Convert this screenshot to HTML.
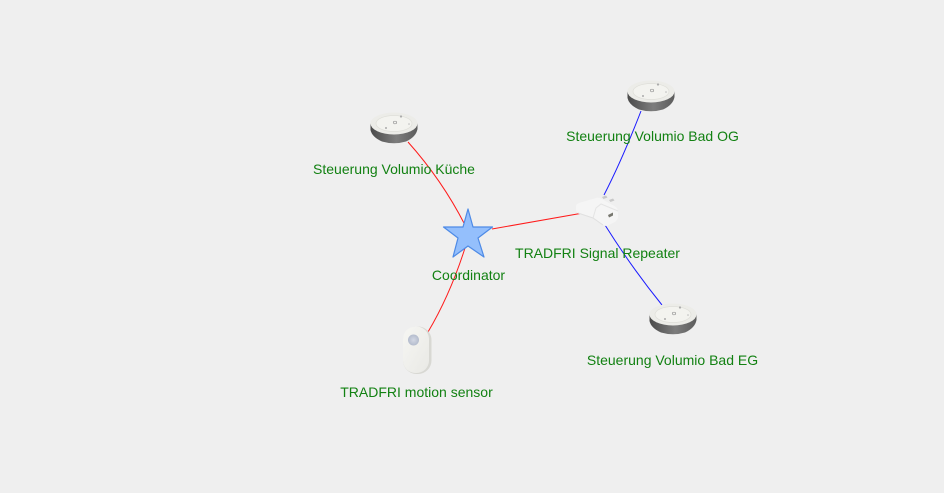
<!DOCTYPE html>
<html>
<head>
<meta charset="utf-8">
<style>
html,body{margin:0;padding:0;width:944px;height:493px;overflow:hidden;background:#efefef}
svg{display:block}
text{font-family:"Liberation Sans",sans-serif;font-size:14px;fill:#128112;text-anchor:middle}
</style>
</head>
<body>
<svg width="944" height="493" viewBox="0 0 944 493" xmlns="http://www.w3.org/2000/svg">
<defs>
<linearGradient id="band" x1="0" x2="1" y1="0" y2="0">
<stop offset="0" stop-color="#4a4a4a"/><stop offset=".55" stop-color="#7d7d7d"/><stop offset="1" stop-color="#5c5c5c"/>
</linearGradient>
<linearGradient id="white" x1="0" x2="1" y1="0" y2="1">
<stop offset="0" stop-color="#f6f6f3"/><stop offset="1" stop-color="#e9e9e5"/>
</linearGradient>
<radialGradient id="lens">
<stop offset="0" stop-color="#d3d8e4"/><stop offset="1" stop-color="#b4bccd"/>
</radialGradient>
<g id="remote">
<path d="M-23.500 -5V2Q-22 9 -12 13.500Q0 17 12 13.500Q22 9 23.500 1V-5Z" fill="url(#band)"/>
<ellipse cx="0" cy="-4.500" rx="23.500" ry="11" fill="#ecece8"/>
<ellipse cx="0" cy="-4.500" rx="18" ry="8" fill="#f3f3ef" stroke="#dfdfd9" stroke-width=".7"/>
<ellipse cx="1" cy="-5.500" rx="1.700" ry="1.300" fill="none" stroke="#999" stroke-width=".7"/>
<circle cx="7" cy="-11.500" r="1.100" fill="#aaa"/>
<circle cx="-8" cy="0" r="1" fill="#aaa"/>
<circle cx="15" cy="-4" r=".8" fill="#bbb"/>
</g>
</defs>
<rect width="944" height="493" fill="#efefef"/>

<g fill="none" stroke-width="1">
<path d="M408 142Q442 180 465 225" stroke="#ff1a1a"/>
<path d="M428 332Q450 295 465 248" stroke="#ff1a1a"/>
<path d="M492 229L583 213" stroke="#ff1a1a"/>
<path d="M604 195Q622 160 641 111" stroke="#1a1aff"/>
<path d="M605 225Q632 268 662 305" stroke="#1a1aff"/>
</g>

<use href="#remote" x="394" y="128"/>
<use href="#remote" x="651" y="96"/>
<use href="#remote" x="673" y="319"/>

<polygon points="468,209 473,227 492.500,227 478,238 484,257 468,246 453,257 458,238 443.500,227 463,227" fill="#94bffc" stroke="#4d8ae6" stroke-width="1.2" stroke-linejoin="round"/>

<g>
<path d="M602 197l4-1.500 1.500 2-4 1.500zM609 200l4-1.500 1.500 2-4 1.500z" fill="#c8c8c8"/>
<path d="M576 206Q576 204 579 203L596 198Q599 197 602 199L616 207Q618 209 618 212L618 218Q617 221 613 223L609 225Q606 227 603 225L593 218L578 213Q576 212 576 210Z" fill="#f5f5f5"/>
<path d="M593 218L596 208L601 204L618 211" fill="none" stroke="#e4e4e4"/>
<path d="M603 225L593 218L578 213" fill="none" stroke="#e0e0e0"/>
<path d="M608 215l5-2.500v3l-4 2z" fill="#77776f"/>
</g>

<g>
<rect x="403" y="326.500" width="28.500" height="47.500" rx="13.500" fill="#d8d8d3"/>
<rect x="403" y="326.500" width="26" height="46.500" rx="12.500" fill="url(#white)"/>
<circle cx="413.500" cy="340" r="5.500" fill="url(#lens)"/>
</g>

<text x="394" y="174">Steuerung Volumio Küche</text>
<text x="652.500" y="141">Steuerung Volumio Bad OG</text>
<text x="468.500" y="280">Coordinator</text>
<text x="597.500" y="258">TRADFRI Signal Repeater</text>
<text x="672.500" y="365">Steuerung Volumio Bad EG</text>
<text x="416.500" y="397">TRADFRI motion sensor</text>
</svg>
</body>
</html>
